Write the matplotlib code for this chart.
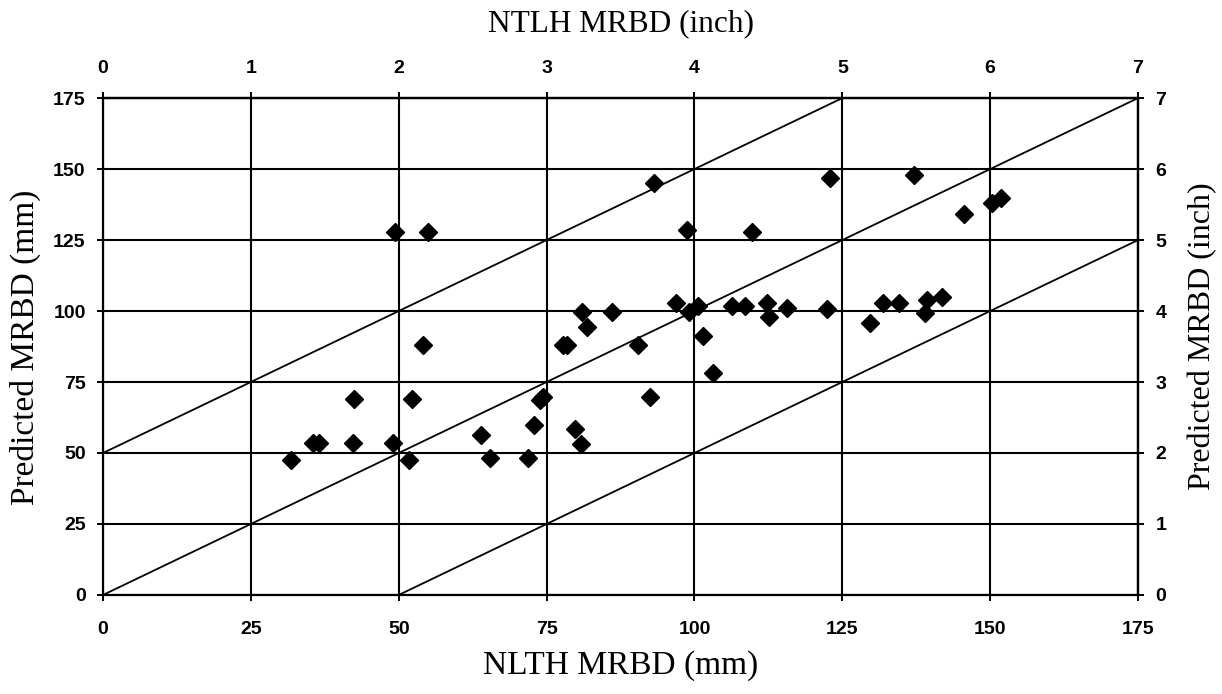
import numpy as np
import matplotlib
matplotlib.use('Agg')
import matplotlib.pyplot as plt
from matplotlib.font_manager import FontProperties

# NLTH vs predicted maximum residual base displacement, both in mm
nlth_mm = [31.7, 35.5, 36.5, 42.2, 42.5, 49.0, 49.3, 51.8, 52.3, 54.1, 55.0,
           63.9, 65.5, 71.9, 72.9, 73.9, 74.4, 77.7, 78.4, 79.8, 80.8, 81.0,
           81.8, 86.0, 90.5, 92.5, 93.2, 96.8, 98.7, 99.1, 100.6, 101.5,
           103.1, 106.3, 108.6, 109.7, 112.2, 112.6, 115.7, 122.4, 123.0,
           129.6, 131.9, 134.5, 137.1, 139.0, 139.4, 141.9, 145.6, 150.3, 151.8]
pred_mm = [47.7, 53.5, 53.5, 53.4, 69.0, 53.4, 128.0, 47.7, 69.0, 88.0, 128.0,
           56.5, 48.2, 48.2, 59.7, 68.5, 69.7, 88.0, 88.0, 58.3, 53.1, 99.8,
           94.2, 99.8, 87.9, 69.8, 145.0, 103.0, 128.5, 99.8, 101.8, 91.3,
           78.2, 101.6, 101.6, 128.0, 102.7, 97.8, 101.2, 100.8, 147.0,
           95.7, 102.7, 102.7, 148.0, 99.3, 103.9, 105.0, 134.2, 138.1, 139.9]

# reference lines y = x + offset
line_offsets = [50, 0, -50]

mm_ticks = [0, 25, 50, 75, 100, 125, 150, 175]
inch_ticks = [0, 1, 2, 3, 4, 5, 6, 7]

serif = 'Liberation Serif'
tick_fp = FontProperties(family='Liberation Sans', weight='bold', size=14)

fig = plt.figure(figsize=(12.22, 6.94), dpi=100)
ax = fig.add_axes([0.0843, 0.1427, 0.847, 0.716])

ax.set_xlim(0, 175)
ax.set_ylim(0, 175)
ax.set_xticks(mm_ticks)
ax.set_yticks(mm_ticks)
ax.grid(True, color='black', linewidth=1.5)
ax.set_axisbelow(True)

xs = np.array([0, 175])
for off in line_offsets:
    ax.plot(xs, xs + off, color='black', linewidth=1.3, zorder=2)

ax.plot(nlth_mm, pred_mm, linestyle='none', marker='D', markersize=9.5,
        color='black', zorder=3)

for s in ax.spines.values():
    s.set_linewidth(1.6)
ax.tick_params(direction='inout', length=9, width=1.4)
ax.tick_params(axis='x', pad=14)
ax.tick_params(axis='y', pad=8)
for lbl in ax.get_xticklabels() + ax.get_yticklabels():
    lbl.set_fontproperties(tick_fp)

# inch scales: Excel-style secondary axes spanning 0..7 over the same range
top = ax.secondary_xaxis('top', functions=(lambda v: v / 25, lambda v: v * 25))
top.set_xticks(inch_ticks)
top.tick_params(direction='inout', length=9, width=1.4, pad=11)
right = ax.secondary_yaxis('right', functions=(lambda v: v / 25, lambda v: v * 25))
right.set_yticks(inch_ticks)
right.tick_params(direction='inout', length=9, width=1.4, pad=8)
for sec in (top, right):
    for s in sec.spines.values():
        s.set_linewidth(1.6)
for lbl in top.get_xticklabels() + right.get_yticklabels():
    lbl.set_fontproperties(tick_fp)

fig.text(0.508, 0.041, 'NLTH MRBD (mm)', family=serif, fontsize=24,
         ha='center', va='center')
fig.text(0.508, 0.966, 'NTLH MRBD (inch)', family=serif, fontsize=22.5,
         ha='center', va='center')
fig.text(0.021, 0.50, 'Predicted MRBD (mm)', family=serif, fontsize=24,
         rotation=90, ha='center', va='center')
fig.text(0.984, 0.515, 'Predicted MRBD (inch)', family=serif, fontsize=23,
         rotation=90, ha='center', va='center')

fig.savefig('out.png', dpi=100)
